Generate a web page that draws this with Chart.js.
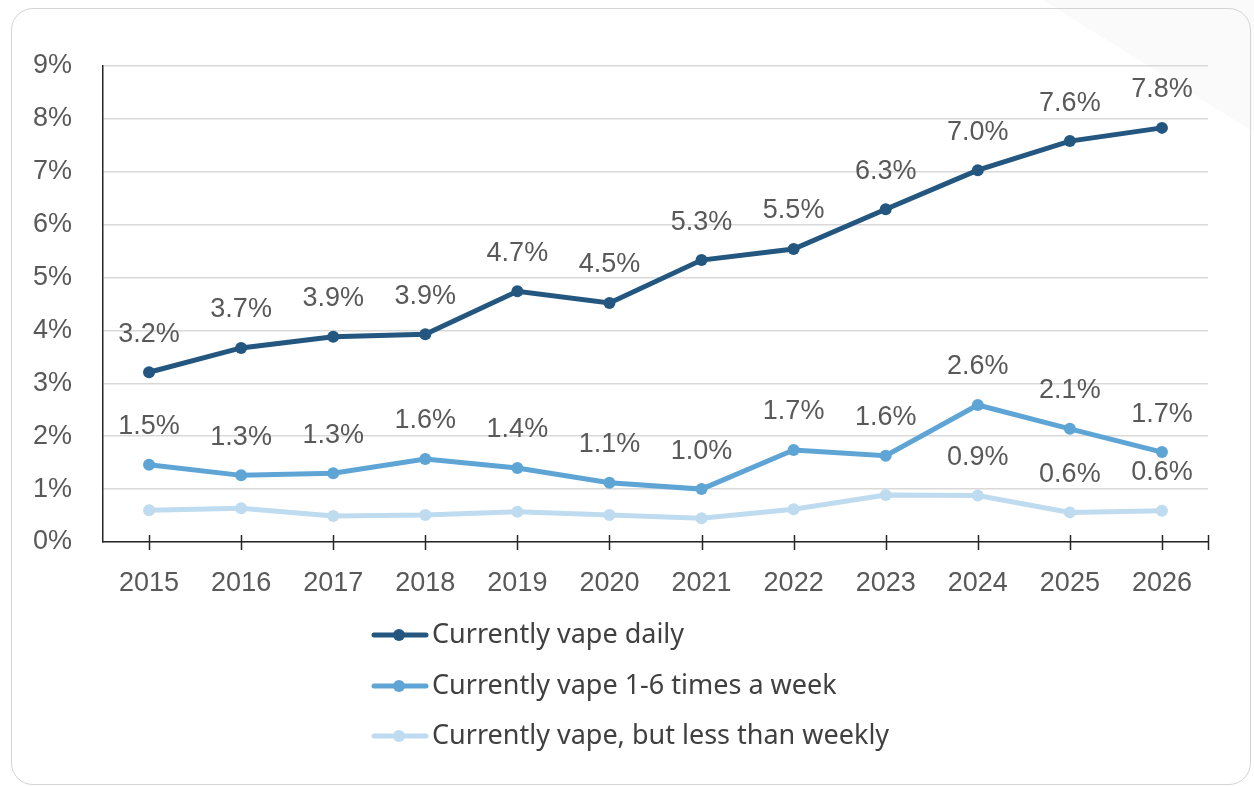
<!DOCTYPE html>
<html>
<head>
<meta charset="utf-8">
<script src="https://cdn.jsdelivr.net/npm/chart.js@4"></script>
<style>
  html, body { margin: 0; padding: 0; background: #ffffff; }
  #wrap { position: relative; width: 1254px; height: 786px; overflow: hidden; }
  #deco { position: absolute; left: 0; top: 0; width: 1254px; height: 786px;
          background: #fafafa; clip-path: polygon(1043px 0, 1254px 0, 1254px 132px); }
  #frame { position: absolute; left: 11px; top: 8px; width: 1238px; height: 775px;
           border: 1.5px solid #d4d4d4; border-radius: 22px; }
  #chart { position: absolute; left: 0; top: 0; }
</style>
</head>
<body>
<div id="wrap">
  <div id="deco"></div>
  <div id="frame"></div>
  <canvas id="chart" width="1254" height="786"></canvas>
</div>
<script>
// Data (percent)
const years = ['2015', '2016', '2017', '2018', '2019', '2020', '2021', '2022', '2023', '2024', '2025', '2026'];
const vapeDaily = [3.21, 3.67, 3.88, 3.93, 4.74, 4.52, 5.33, 5.54, 6.29, 7.03, 7.58, 7.83];
const vapeWeekly = [1.46, 1.26, 1.30, 1.57, 1.40, 1.12, 1.00, 1.74, 1.63, 2.59, 2.14, 1.70];
const vapeLess = [0.60, 0.64, 0.49, 0.51, 0.57, 0.51, 0.45, 0.62, 0.89, 0.88, 0.56, 0.59];
// which points carry a value label
const labelDaily = years.map(() => true);
const labelWeekly = years.map(() => true);
const labelLess = years.map(y => ['2024', '2025', '2026'].includes(y));
const yTicks = [0, 1, 2, 3, 4, 5, 6, 7, 8, 9];

const textColor = '#595959';
const fontFamily = '"Liberation Sans", Arial, sans-serif';
const fontSize = 27;

// Value labels above points
const valueLabels = {
    id: 'valueLabels',
    afterDatasetsDraw(chart) {
        const ctx = chart.ctx;
        const flags = [labelDaily, labelWeekly, labelLess];
        ctx.save();
        ctx.font = fontSize + 'px ' + fontFamily;
        ctx.fillStyle = textColor;
        ctx.textAlign = 'center';
        ctx.textBaseline = 'middle';
        chart.data.datasets.forEach((ds, i) => {
            chart.getDatasetMeta(i).data.forEach((pt, j) => {
                if (!flags[i][j]) return;
                ctx.fillText(ds.data[j].toFixed(1) + '%', pt.x, pt.y - 38);
            });
        });
        ctx.restore();
    }
};

// Excel style crossing tick marks on the category axis
const axisTicks = {
    id: 'axisTicks',
    afterDraw(chart) {
        const ctx = chart.ctx;
        const x = chart.scales.x;
        const bottom = chart.chartArea.bottom;
        const xs = years.map((_, i) => x.getPixelForValue(i));
        xs.push(chart.chartArea.right);
        ctx.save();
        ctx.strokeStyle = '#262626';
        ctx.lineWidth = 1.5;
        xs.forEach(px => {
            ctx.beginPath();
            ctx.moveTo(Math.round(px) + 0.5, bottom - 7);
            ctx.lineTo(Math.round(px) + 0.5, bottom + 8);
            ctx.stroke();
        });
        ctx.restore();
    }
};

// Vertical legend with line + dot markers
const lineLegend = {
    id: 'lineLegend',
    afterDraw(chart) {
        const ctx = chart.ctx;
        const left = 374, rowY = [635, 686, 736];
        ctx.save();
        ctx.font = '27px "Noto Sans", sans-serif';
        ctx.textBaseline = 'middle';
        ctx.textAlign = 'left';
        chart.data.datasets.forEach((ds, i) => {
            const y = rowY[i];
            ctx.strokeStyle = ds.borderColor;
            ctx.lineWidth = 5;
            ctx.lineCap = 'round';
            ctx.beginPath();
            ctx.moveTo(left, y);
            ctx.lineTo(left + 52, y);
            ctx.stroke();
            ctx.fillStyle = ds.borderColor;
            ctx.beginPath();
            ctx.arc(left + 25, y, 6, 0, Math.PI * 2);
            ctx.fill();
            ctx.fillStyle = '#404040';
            ctx.fillText(ds.label, left + 58, y);
        });
        ctx.restore();
    }
};

function series(label, data, color) {
    return {
        label: label,
        data: data,
        borderColor: color,
        backgroundColor: color,
        borderWidth: 5,
        pointRadius: 6,
        pointHoverRadius: 6,
        pointBorderWidth: 0,
        tension: 0
    };
}

new Chart(document.getElementById('chart'), {
    type: 'line',
    data: {
        labels: years,
        datasets: [
            series('Currently vape daily', vapeDaily, '#245780'),
            series('Currently vape 1-6 times a week', vapeWeekly, '#5ea5d6'),
            series('Currently vape, but less than weekly', vapeLess, '#bfdbef')
        ]
    },
    options: {
        responsive: false,
        animation: false,
        events: [],
        layout: { padding: { left: 0, top: 66, right: 46, bottom: 0 } },
        plugins: {
            legend: { display: false },
            tooltip: { enabled: false }
        },
        scales: {
            x: {
                offset: true,
                grid: { display: false, drawTicks: false },
                border: { display: true, color: '#262626', width: 1.5 },
                ticks: {
                    color: textColor,
                    font: { family: fontFamily, size: fontSize },
                    padding: 25,
                    maxRotation: 0
                },
                afterFit: s => { s.height = 244; }
            },
            y: {
                min: 0,
                max: 9,
                afterBuildTicks: s => { s.ticks = yTicks.map(v => ({ value: v })); },
                grid: { color: '#d9d9d9', lineWidth: 1.5, drawTicks: false },
                border: { display: true, color: '#262626', width: 1.5 },
                ticks: {
                    color: textColor,
                    font: { family: fontFamily, size: fontSize },
                    padding: 31,
                    callback: v => v + '%'
                },
                afterFit: s => { s.width = 103; }
            }
        }
    },
    plugins: [valueLabels, axisTicks, lineLegend]
});
</script>
</body>
</html>
